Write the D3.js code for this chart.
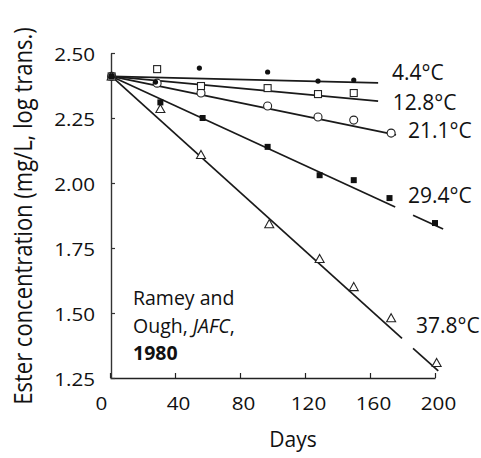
<!DOCTYPE html>
<html>
<head>
<meta charset="utf-8">
<script src="https://cdn.jsdelivr.net/npm/d3@7"></script>
<style>
  html, body { margin: 0; padding: 0; background: #fff; }
  svg { display: block; }
  text { font-family: "Open Sans", "Liberation Sans", sans-serif; fill: #111; }
</style>
</head>
<body>
<svg id="chart" width="481" height="458"></svg>
<script>
// ---- data ----
const xTicks = [0, 40, 80, 120, 160, 200];
const yTicks = [1.25, 1.50, 1.75, 2.00, 2.25, 2.50];

const seriesNames = ["4.4°C", "12.8°C", "21.1°C", "29.4°C", "37.8°C"];
const seriesMarkers = ["dot", "openSquare", "openCircle", "filledSquare", "openTriangle"];

const days44 = [1, 28, 55, 97, 128, 150];
const vals44 = [2.41, 2.388, 2.442, 2.427, 2.392, 2.396];

const days128 = [1, 29, 56, 97, 128, 150];
const vals128 = [2.41, 2.438, 2.373, 2.365, 2.342, 2.346];

const days211 = [1, 29, 56, 97, 128, 150, 173];
const vals211 = [2.41, 2.384, 2.346, 2.296, 2.254, 2.242, 2.192];

const days294 = [1, 31, 57, 97, 129, 150, 172, 200];
const vals294 = [2.41, 2.31, 2.25, 2.139, 2.03, 2.011, 1.942, 1.846];

const days378 = [1, 31, 56, 98, 129, 150, 173, 201];
const vals378 = [2.41, 2.285, 2.108, 1.842, 1.708, 1.60, 1.48, 1.308];

// fitted regression lines: start/end (day, value), optional gap for the label
const fitStartDay = [1, 1, 1, 1, 1];
const fitStartVal = [2.41, 2.41, 2.41, 2.41, 2.41];
const fitEndDay = [165, 165, 176, 205, 202];
const fitEndVal = [2.385, 2.315, 2.185, 1.823, 1.277];
const fitGaps = [null, null, null, [175.5, 186.5], [179.7, 186.5]];

// label anchors (data units)
const labelDay = [173.5, 174, 183.4, 183.4, 188.3];
const labelVal = [2.396, 2.281, 2.173, 1.923, 1.423];

const citeLines = ["Ramey and", "Ough, ", "1980"];

// ---- chart ----
const svg = d3.select("#chart");
const x = d3.scaleLinear().domain([0, 200]).range([110, 435]);
const y = d3.scaleLinear().domain([1.25, 2.5]).range([378, 53]);
const stretch = 1.18;

// axes
const gx = svg.append("g").attr("transform", `translate(0,${y(1.25)})`)
  .call(d3.axisBottom(x).tickValues(xTicks).tickSizeInner(-5).tickSizeOuter(0).tickPadding(20));
gx.select(".domain").attr("stroke", "#222").attr("stroke-width", 1.6);
gx.selectAll(".tick line").attr("stroke", "#222").attr("stroke-width", 1.2);
gx.selectAll(".tick text").attr("font-size", 17.5).attr("font-family", "Open Sans").attr("fill", "#111")
  .attr("x", d => (d === 0 ? -9 : 3) / stretch)
  .attr("transform", `scale(${stretch},1)`);

const gy = svg.append("g").attr("transform", `translate(${x(0) + 1},0)`)
  .call(d3.axisLeft(y).tickValues(yTicks).tickFormat(d3.format(".2f")).tickSizeInner(-4).tickSizeOuter(0).tickPadding(16));
gy.select(".domain").attr("stroke", "#333").attr("stroke-width", 1.4);
gy.selectAll(".tick line").attr("stroke", "#333").attr("stroke-width", 1.2);
gy.selectAll(".tick text").attr("font-size", 17.5).attr("font-family", "Open Sans").attr("fill", "#111")
  .attr("x", -16 / stretch)
  .attr("dy", "0.45em")
  .attr("transform", `scale(${stretch},1)`);

// titles
svg.append("text").attr("x", 293).attr("y", 447).attr("text-anchor", "middle")
  .attr("font-size", 21).text("Days");
svg.append("text").attr("transform", `translate(32,216) rotate(-90) scale(1,${stretch})`).attr("text-anchor", "middle")
  .attr("font-size", 22).text("Ester concentration (mg/L, log trans.)");

// fitted lines
const lineG = svg.append("g");
seriesNames.forEach((name, i) => {
  const d0 = fitStartDay[i], v0 = fitStartVal[i], d1 = fitEndDay[i], v1 = fitEndVal[i];
  const at = d => v0 + (v1 - v0) * (d - d0) / (d1 - d0);
  const segs = fitGaps[i] ? [[d0, fitGaps[i][0]], [fitGaps[i][1], d1]] : [[d0, d1]];
  segs.forEach(([a, b]) => {
    lineG.append("line")
      .attr("x1", x(a)).attr("y1", y(at(a)))
      .attr("x2", x(b)).attr("y2", y(at(b)))
      .attr("stroke", "#1a1a1a").attr("stroke-width", 1.7);
  });
});

// markers
const allDays = [days44, days128, days211, days294, days378];
const allVals = [vals44, vals128, vals211, vals294, vals378];
const markG = svg.append("g");
const order = [2, 1, 4, 3, 0];
order.forEach(i => {
  const kind = seriesMarkers[i];
  allDays[i].forEach((d, j) => {
    const cx = x(d), cy = y(allVals[i][j]);
    if (kind === "dot") {
      markG.append("circle").attr("cx", cx).attr("cy", cy).attr("r", 2.6).attr("fill", "#111");
    } else if (kind === "openSquare") {
      markG.append("rect").attr("x", cx - 3.5).attr("y", cy - 3.5).attr("width", 7).attr("height", 7)
        .attr("fill", "#fff").attr("stroke", "#222").attr("stroke-width", 1.1);
    } else if (kind === "openCircle") {
      markG.append("circle").attr("cx", cx).attr("cy", cy).attr("r", 4)
        .attr("fill", "#fff").attr("stroke", "#222").attr("stroke-width", 1.1);
    } else if (kind === "filledSquare") {
      markG.append("rect").attr("x", cx - 3).attr("y", cy - 3).attr("width", 6).attr("height", 6)
        .attr("fill", "#111");
    } else if (kind === "openTriangle") {
      const s = 4.5;
      markG.append("path")
        .attr("d", `M${cx},${cy - s}L${cx + s},${cy + s * 0.8}L${cx - s},${cy + s * 0.8}Z`)
        .attr("fill", "#fff").attr("stroke", "#222").attr("stroke-width", 1.1);
    }
  });
});

// series labels
seriesNames.forEach((name, i) => {
  svg.append("text").attr("x", x(labelDay[i])).attr("y", y(labelVal[i]))
    .attr("font-size", 21).text(name);
});

// citation
const cite = svg.append("g").attr("font-size", 19.5);
cite.append("text").attr("x", 133).attr("y", 305).text(citeLines[0]);
const l2 = cite.append("text").attr("x", 133).attr("y", 333);
l2.append("tspan").text(citeLines[1]);
l2.append("tspan").attr("font-style", "italic").text("JAFC");
l2.append("tspan").text(",");
cite.append("text").attr("x", 133).attr("y", 360).attr("font-weight", "bold").text(citeLines[2]);
</script>
</body>
</html>
